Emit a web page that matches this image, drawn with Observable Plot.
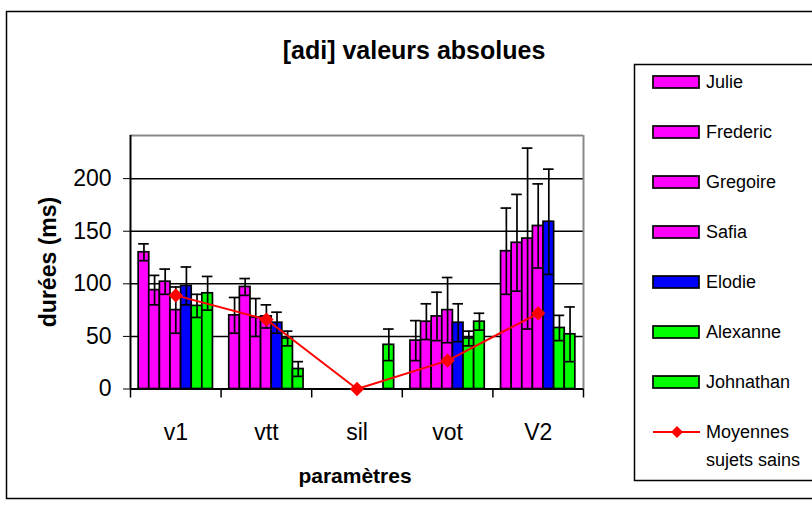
<!DOCTYPE html>
<html>
<head>
<meta charset="utf-8">
<script src="https://cdn.jsdelivr.net/npm/d3@7"></script>
<script src="https://cdn.jsdelivr.net/npm/@observablehq/plot@0.6"></script>
<style>
  html, body { margin: 0; padding: 0; background: white; }
  #chart svg { display: block; }
</style>
</head>
<body>
<div id="chart"></div>
<script>
// ---- data ----
const categories = ["v1", "vtt", "sil", "vot", "V2"];
const subjects = ["Julie", "Frederic", "Gregoire", "Safia", "Elodie", "Alexanne", "Johnathan"];
const subjectColors = ["#FF00FF", "#FF00FF", "#FF00FF", "#FF00FF", "#0000FF", "#00FF00", "#00FF00"];

const julie      = [130, 70, null, 46, 131];
const frederic   = [94, 97, null, 64, 139];
const gregoire   = [102, 68, null, 69, 143];
const safia      = [75, 69, null, 75, 155];
const elodie     = [98, 63, null, 63, 159];
const alexanne   = [79, 48, null, 48, 58];
const johnathan  = [91, 19, 42, 64, 52];

const julieSD     = [8, 17, null, 19, 41];
const fredericSD  = [14, 8, null, 17, 46];
const gregoireSD  = [12, 18, null, 23, 86];
const safiaSD     = [22, 11, null, 31, 40];
const elodieSD    = [18, 10, null, 18, 50];
const alexanneSD  = [11, 7, null, 7, 12];
const johnathanSD = [16, 7, 15, 8, 26];

const moyennes = [89, 66, 0, 27, 72];
const yTicks = [0, 50, 100, 150, 200];

// ---- table built from the arrays ----
const valueLists = [julie, frederic, gregoire, safia, elodie, alexanne, johnathan];
const sdLists = [julieSD, fredericSD, gregoireSD, safiaSD, elodieSD, alexanneSD, johnathanSD];
const GAP = 0.18;
const BW = (1 - GAP) / subjects.length;
const rows = [];
subjects.forEach((s, j) => {
  categories.forEach((c, i) => {
    const v = valueLists[j][i];
    if (v == null) return;
    rows.push({subject: s, j, ci: i, value: v, sd: sdLists[j][i], color: subjectColors[j]});
  });
});
const x1 = d => d.ci - 0.5 + GAP / 2 + d.j * BW;
const x2 = d => x1(d) + BW;
const xc = d => x1(d) + BW / 2;
const meanRows = categories.map((c, i) => ({ci: i, m: moyennes[i]}));
const boundaries = d3.range(categories.length + 1).map(i => i - 0.5);

const chart = Plot.plot({
  width: 812,
  height: 510,
  marginLeft: 130,
  marginRight: 229,
  marginTop: 135,
  marginBottom: 121.5,
  style: {fontFamily: "'Liberation Sans', Arial, sans-serif", fontSize: "23px", background: "white", color: "black"},
  x: {domain: [-0.5, categories.length - 0.5], ticks: 5, tickFormat: d => categories[d] ?? "", tickSize: 0, tickPadding: 35, label: null},
  y: {domain: [0, 241], ticks: 5, tickSize: 7, tickPadding: 12, label: null},
  marks: [
    Plot.ruleY(yTicks.slice(1), {stroke: "black", strokeWidth: 1.5}),
    Plot.ruleY([241], {stroke: "#888", strokeWidth: 2}),
    Plot.ruleX([categories.length - 0.5], {stroke: "#888", strokeWidth: 2}),
    Plot.rectY(rows, {x1, x2, y1: 0, y2: "value", fill: d => d.color, stroke: "black", strokeWidth: 1.7}),
    Plot.ruleX(rows, {x: xc, y1: d => d.value - d.sd, y2: d => d.value + d.sd, stroke: "black", strokeWidth: 1.7}),
    Plot.ruleY(rows, {y: d => d.value + d.sd, x1, x2, stroke: "black", strokeWidth: 1.7}),
    Plot.ruleY(rows, {y: d => d.value - d.sd, x1, x2, stroke: "black", strokeWidth: 1.7}),
    Plot.ruleY([0], {stroke: "black", strokeWidth: 2}),
    Plot.ruleX([-0.5], {stroke: "black", strokeWidth: 2}),
    Plot.ruleX(boundaries, {y1: 0, y2: 0, insetBottom: -9, stroke: "black", strokeWidth: 1.5}),
    Plot.line(meanRows, {x: "ci", y: "m", stroke: "#FF0000", strokeWidth: 2}),
    Plot.dot(meanRows, {x: "ci", y: "m", symbol: "diamond2", r: 5.5, fill: "#FF0000", stroke: "#FF0000"})
  ]
});
document.getElementById("chart").appendChild(chart);

// ---- frame, title, axis titles and legend ----
const svg = d3.select(chart);
const FONT = "'Liberation Sans', Arial, sans-serif";
svg.insert("rect", ":first-child")
  .attr("x", 6.5).attr("y", 11.5).attr("width", 900).attr("height", 487)
  .attr("fill", "white").attr("stroke", "black").attr("stroke-width", 1.5);

svg.append("text")
  .attr("x", 414).attr("y", 50).attr("dy", "0.35em")
  .attr("text-anchor", "middle").attr("font-family", FONT)
  .attr("font-size", 25).attr("font-weight", "bold")
  .text("[adi] valeurs absolues");

svg.append("text")
  .attr("transform", "translate(48,262) rotate(-90)")
  .attr("dy", "0.35em").attr("text-anchor", "middle").attr("font-family", FONT)
  .attr("font-size", 23).attr("font-weight", "bold")
  .text("durées (ms)");

svg.append("text")
  .attr("x", 355).attr("y", 476).attr("dy", "0.35em")
  .attr("text-anchor", "middle").attr("font-family", FONT)
  .attr("font-size", 21).attr("font-weight", "bold")
  .text("paramètres");

const lg = svg.append("g").attr("font-family", FONT).attr("font-size", 18).attr("text-anchor", "start");
lg.append("rect").attr("x", 634.5).attr("y", 64.5).attr("width", 250).attr("height", 416)
  .attr("fill", "white").attr("stroke", "black").attr("stroke-width", 1.5);
subjects.forEach((s, j) => {
  const cy = 82 + 50 * j;
  lg.append("rect").attr("x", 653).attr("y", cy - 6).attr("width", 46).attr("height", 12)
    .attr("fill", subjectColors[j]).attr("stroke", "black").attr("stroke-width", 1.7);
  lg.append("text").attr("x", 706).attr("y", cy).attr("dy", "0.35em").attr("text-anchor", "start").text(s);
});
const my = 432;
lg.append("line").attr("x1", 653).attr("x2", 700).attr("y1", my).attr("y2", my)
  .attr("stroke", "#FF0000").attr("stroke-width", 2);
lg.append("path").attr("d", d3.symbol(d3.symbolDiamond2, 90)())
  .attr("transform", `translate(677,${my})`).attr("fill", "#FF0000");
lg.append("text").attr("x", 706).attr("y", my).attr("dy", "0.35em").attr("text-anchor", "start").text("Moyennes");
lg.append("text").attr("x", 706).attr("y", 460).attr("dy", "0.35em").attr("text-anchor", "start").text("sujets sains");
</script>
</body>
</html>
